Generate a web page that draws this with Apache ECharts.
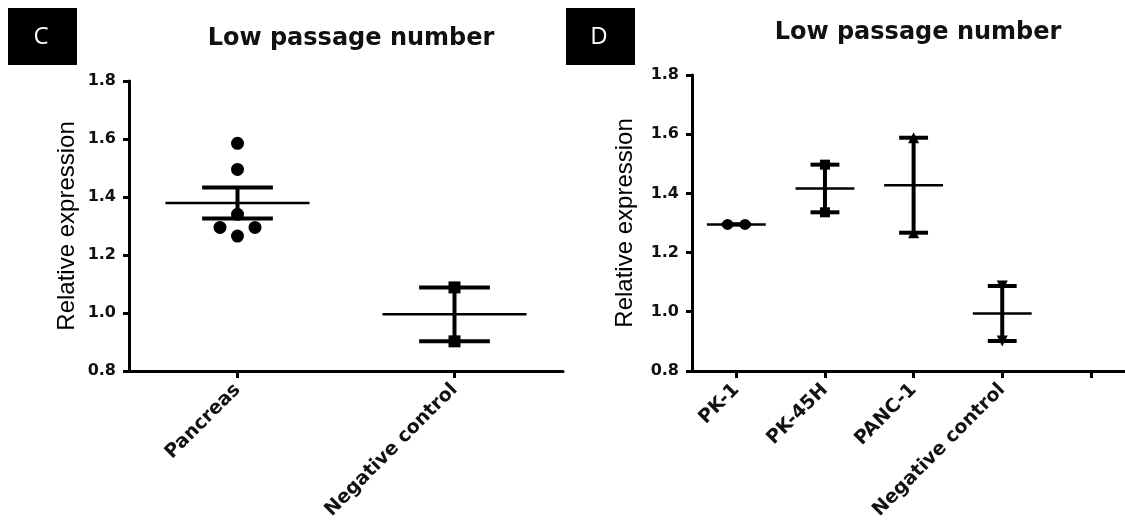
<!DOCTYPE html>
<html>
<head>
<meta charset="utf-8">
<title>Low passage number</title>
<script src="https://cdn.jsdelivr.net/npm/echarts@6/dist/echarts.min.js"></script>
<style>
  html, body { margin: 0; padding: 0; background: #fff; }
  #chart { width: 1125px; height: 522px; }
</style>
</head>
<body>
<div id="chart"></div>
<script>
// panel C
const leftCategories = ['Pancreas', 'Negative control'];
const leftPancreas = [1.585, 1.495, 1.34, 1.295, 1.295, 1.265];
const leftNegative = [1.088, 0.902];

// panel D (last slot is the empty tick at the end of the axis)
const rightCategories = ['PK-1', 'PK-45H', 'PANC-1', 'Negative control', ''];
const rightPK1 = [1.295, 1.295];
const rightPK45H = [1.497, 1.336];
const rightPANC1 = [1.588, 1.267];
const rightNegative = [1.087, 0.901];

const yMin = 0.8, yMax = 1.8, yStep = 0.2;
const titleText = 'Low passage number';
const panelLetters = ['C', 'D'];
const yName = 'Relative expression';

const chart = echarts.init(document.getElementById('chart'), null, { renderer: 'canvas' });

function meanSem(vals) {
  const n = vals.length;
  const m = vals.reduce((a, b) => a + b, 0) / n;
  const sd = Math.sqrt(vals.reduce((a, b) => a + (b - m) * (b - m), 0) / (n - 1));
  return [m, sd / Math.sqrt(n)];
}

// points sharing a value are spread sideways
function pointSeries(gi, ci, vals, symbol, size, spacing, rotate) {
  const counts = {}, seen = {};
  vals.forEach(v => { const k = v.toFixed(2); counts[k] = (counts[k] || 0) + 1; });
  const data = vals.map(v => {
    const k = v.toFixed(2);
    seen[k] = seen[k] || 0;
    const off = (seen[k]++ - (counts[k] - 1) / 2) * spacing;
    return { value: [ci, v], symbolOffset: [off, 0] };
  });
  return {
    type: 'scatter', xAxisIndex: gi, yAxisIndex: gi, silent: true, z: 3,
    symbol: symbol, symbolSize: size, symbolRotate: rotate || 0,
    itemStyle: { color: '#000', opacity: 1 },
    data: data
  };
}

function summarySeries(gi, groups) {
  return {
    type: 'custom', xAxisIndex: gi, yAxisIndex: gi, silent: true, z: 2,
    encode: { x: 0, y: [1, 2, 3] },
    data: groups.map((g, i) => {
      const ms = meanSem(g);
      return [i, ms[0], ms[0] - ms[1], ms[0] + ms[1]];
    }),
    renderItem: function (params, api) {
      const x = api.value(0);
      const pm = api.coord([x, api.value(1)]);
      const plo = api.coord([x, api.value(2)]);
      const phi = api.coord([x, api.value(3)]);
      const band = api.size([1, 0])[0];
      const hw = band * 0.332, cw = band * 0.163;
      const thick = { stroke: '#000', lineWidth: 4 };
      return {
        type: 'group',
        children: [
          { type: 'line', shape: { x1: pm[0] - hw, y1: pm[1], x2: pm[0] + hw, y2: pm[1] }, style: { stroke: '#000', lineWidth: 2.5 } },
          { type: 'line', shape: { x1: pm[0], y1: plo[1], x2: pm[0], y2: phi[1] }, style: thick },
          { type: 'line', shape: { x1: pm[0] - cw, y1: plo[1], x2: pm[0] + cw, y2: plo[1] }, style: thick },
          { type: 'line', shape: { x1: pm[0] - cw, y1: phi[1], x2: pm[0] + cw, y2: phi[1] }, style: thick }
        ]
      };
    }
  };
}

function xAxisFor(gi, cats, max) {
  const idx = cats.map((c, i) => i);
  return {
    type: 'value', gridIndex: gi, min: -0.5, max: max,
    splitLine: { show: false },
    axisLine: { show: true, onZero: false, lineStyle: { color: '#000', width: 3 } },
    axisTick: { show: true, customValues: idx, length: 7, lineStyle: { color: '#000', width: 3 } },
    axisLabel: {
      customValues: idx,
      formatter: v => cats[Math.round(v)],
      rotate: 45, margin: 16,
      fontFamily: 'DejaVu Sans', fontWeight: 'bold', fontSize: 19, color: '#111'
    }
  };
}

function yAxisFor(gi, gap) {
  return {
    type: 'value', gridIndex: gi, min: yMin, max: yMax, interval: yStep,
    name: yName, nameLocation: 'middle', nameGap: gap,
    nameTextStyle: { fontFamily: 'Liberation Sans', fontSize: 24, color: '#000' },
    splitLine: { show: false },
    axisLine: { show: true, onZero: false, lineStyle: { color: '#000', width: 3 } },
    axisTick: { show: true, length: 6, lineStyle: { color: '#000', width: 3 } },
    axisLabel: {
      formatter: v => v.toFixed(1), margin: 13,
      fontFamily: 'DejaVu Sans', fontWeight: 'bold', fontSize: 16, color: '#111'
    }
  };
}

function panelLabel(x, letter) {
  return [
    { type: 'rect', left: x, top: 8, shape: { width: 69, height: 57 }, style: { fill: '#000' } },
    { type: 'text', x: x + 33, y: 37, style: { text: letter, fill: '#fff', font: '24px "Open Sans"', textAlign: 'center', textVerticalAlign: 'middle' } }
  ];
}

const option = {
  backgroundColor: '#fff',
  animation: false,
  title: [
    { text: titleText, left: 346, top: 22, textAlign: 'center',
      textStyle: { fontFamily: 'DejaVu Sans', fontWeight: 'bold', fontSize: 24, color: '#111' } },
    { text: titleText, left: 913, top: 16, textAlign: 'center',
      textStyle: { fontFamily: 'DejaVu Sans', fontWeight: 'bold', fontSize: 24, color: '#111' } }
  ],
  grid: [
    { left: 129, top: 81, width: 434, bottom: 151, containLabel: false },
    { left: 692, top: 75, right: 0, bottom: 149, containLabel: false }
  ],
  xAxis: [
    xAxisFor(0, leftCategories, 1.5),
    xAxisFor(1, rightCategories, 4.385)
  ],
  yAxis: [
    yAxisFor(0, 50),
    yAxisFor(1, 55)
  ],
  graphic: panelLabel(8, panelLetters[0]).concat(panelLabel(566, panelLetters[1])),
  series: [
    summarySeries(0, [leftPancreas, leftNegative]),
    pointSeries(0, 0, leftPancreas, 'circle', 13, 35),
    pointSeries(0, 1, leftNegative, 'rect', 12, 35),
    summarySeries(1, [rightPK1, rightPK45H, rightPANC1, rightNegative]),
    pointSeries(1, 0, rightPK1, 'circle', 11, 17.4),
    pointSeries(1, 1, rightPK45H, 'rect', 10, 17.4),
    pointSeries(1, 2, rightPANC1, 'triangle', 11, 17.4),
    pointSeries(1, 3, rightNegative, 'triangle', 11, 17.4, 180)
  ]
};

chart.setOption(option);
</script>
</body>
</html>
